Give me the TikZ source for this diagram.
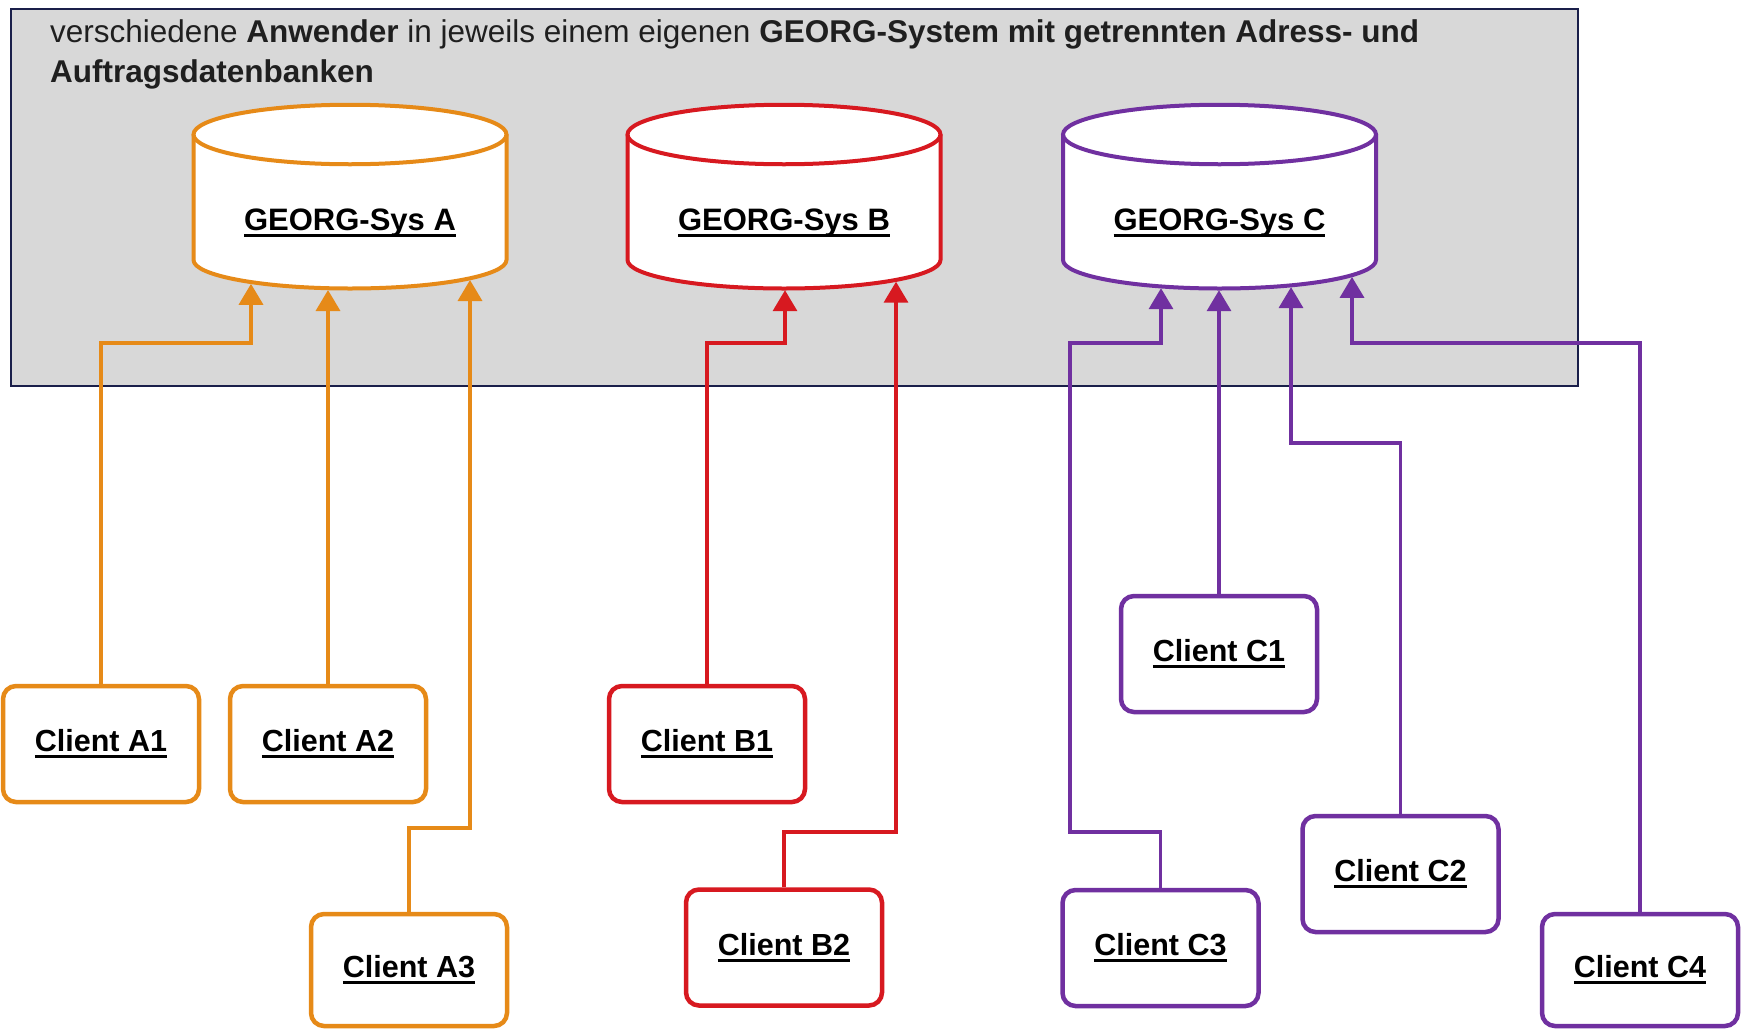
\documentclass[tikz,border=0pt]{standalone}
\usepackage{fontspec}
\setmainfont{Liberation Sans}
\usetikzlibrary{arrows.meta}
\definecolor{cOrange}{HTML}{E68A18}
\definecolor{cRed}{HTML}{D71920}
\definecolor{cPurple}{HTML}{7030A0}
\definecolor{cGray}{HTML}{D8D8D8}
\definecolor{cNavy}{HTML}{1A1F4A}
\newcommand\myul[1]{\setbox0=\hbox{#1}\rlap{\rule[-6.8pt]{\wd0}{3.2pt}}\box0}
% cylinder: #1 center x, #2 colour
\newcommand\mycyl[2]{%
  \path[fill=white] (#1-156.5,134.5) -- (#1-156.5,260)
    arc[start angle=180,end angle=360,x radius=156.5pt,y radius=28.5pt]
    -- (#1+156.5,134.5)
    arc[start angle=0,end angle=180,x radius=156.5pt,y radius=29.75pt] -- cycle;
  \draw[draw=#2,line width=4pt,line join=round] (#1-156.5,134.5) -- (#1-156.5,260)
    arc[start angle=180,end angle=360,x radius=156.5pt,y radius=28.5pt]
    -- (#1+156.5,134.5);
  \draw[draw=#2,line width=4pt] (#1,134.5) ellipse[x radius=156.5pt,y radius=29.75pt];
}
\tikzset{
  client/.style={draw=#1,fill=white,line width=4.5pt,rounded corners=13pt,
    minimum width=196pt,minimum height=116pt,inner sep=0pt,
    font=\fontsize{30.5}{36}\selectfont\bfseries},
  syslabel/.style={anchor=base,inner sep=0pt,font=\fontsize{31}{36}\selectfont\bfseries},
  conn/.style={draw=#1,line width=3.5pt,-{Triangle[width=24pt,length=21pt]}},
  title/.style={anchor=base west,inner sep=0pt,font=\fontsize{31.5}{40}\selectfont,text=black!88}
}
\begin{document}
\begin{tikzpicture}[x=1pt,y=-1pt]
\useasboundingbox (0,0) rectangle (1748,1031);
% frame
\node[draw=cNavy,fill=cGray,line width=2.2pt,inner sep=0pt,minimum width=1567pt,minimum height=377pt] (frame) at (794.5,197.5) {};
\node[title] (t1) at (50,42) {verschiedene \textbf{Anwender} in jeweils einem eigenen \textbf{GEORG-System mit getrennten Adress- und}};
\node[title] (t2) at (50,82) {\textbf{Auftragsdatenbanken}};
% cylinders
\mycyl{350}{cOrange}
\mycyl{784}{cRed}
\mycyl{1219.5}{cPurple}
\node[syslabel] (sysA) at (350,230) {\myul{GEORG-Sys A}};
\node[syslabel] (sysB) at (784,230) {\myul{GEORG-Sys B}};
\node[syslabel] (sysC) at (1219.5,230) {\myul{GEORG-Sys C}};
% arrow tip coordinates on the cylinder bottoms
\coordinate (tA1) at (251,283.8);
\coordinate (tA2) at (328,290);
\coordinate (tA3) at (470,280);
\coordinate (tB1) at (785,290.2);
\coordinate (tB2) at (896,281.7);
\coordinate (tC3) at (1161,288.2);
\coordinate (tC1) at (1219,290.2);
\coordinate (tC2) at (1291,287.1);
\coordinate (tC4) at (1352,276.9);
% clients
\node[client=cOrange] (clA1) at (101,744) {\myul{Client A1}};
\node[client=cOrange] (clA2) at (328,744) {\myul{Client A2}};
\node[client=cOrange,minimum height=112pt] (clA3) at (409,970) {\myul{Client A3}};
\node[client=cRed] (clB1) at (707,744) {\myul{Client B1}};
\node[client=cRed] (clB2) at (784,947.5) {\myul{Client B2}};
\node[client=cPurple] (clC1) at (1219,654) {\myul{Client C1}};
\node[client=cPurple] (clC2) at (1400.5,874) {\myul{Client C2}};
\node[client=cPurple] (clC3) at (1160.5,948) {\myul{Client C3}};
\node[client=cPurple,minimum height=112pt] (clC4) at (1640,970) {\myul{Client C4}};
% bend points
\coordinate (kA1) at (251,343);
\coordinate (kA3) at (470,828);
\coordinate (kB1) at (785,343);
\coordinate (kB2) at (896,832);
\coordinate (kC3a) at (1160.5,832);
\coordinate (kC3b) at (1070,832);
\coordinate (kC3c) at (1070,343);
\coordinate (kC3d) at (1161,343);
\coordinate (kC2) at (1291,443);
\coordinate (kC4) at (1352,343);
% connectors
\draw[conn=cOrange] (clA1.north) |- (kA1) -- (tA1);
\draw[conn=cOrange] (clA2.north) -- (tA2);
\draw[conn=cOrange] (clA3.north) |- (kA3) -- (tA3);
\draw[conn=cRed] (clB1.north) |- (kB1) -- (tB1);
\draw[conn=cRed] (clB2.north) |- (kB2) -- (tB2);
\draw[conn=cPurple] (clC3.north) -- (kC3a) -- (kC3b) -- (kC3c) -- (kC3d) -- (tC3);
\draw[conn=cPurple] (clC1.north) -- (tC1);
\draw[conn=cPurple] (clC2.north) |- (kC2) -- (tC2);
\draw[conn=cPurple] (clC4.north) |- (kC4) -- (tC4);
\end{tikzpicture}
\end{document}
